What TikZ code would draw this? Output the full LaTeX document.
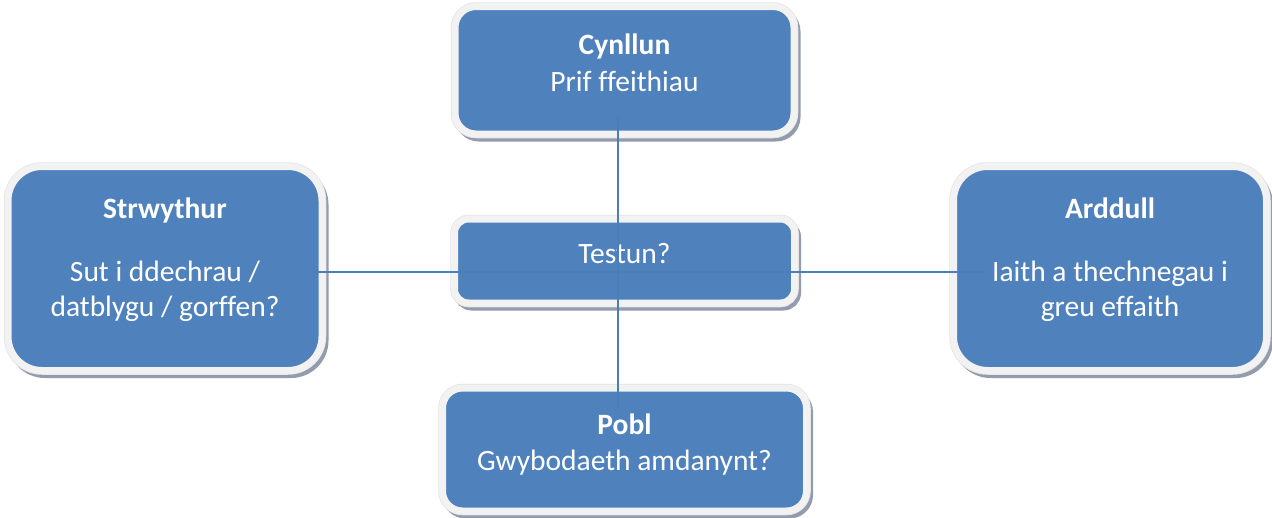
\documentclass[tikz,border=0pt]{standalone}
\usepackage{fontspec}
\setmainfont{Carlito}[Ligatures=NoCommon]
\usetikzlibrary{shadows}
\definecolor{boxblue}{HTML}{4F81BD}
\definecolor{linkblue}{HTML}{4A7EBB}
\definecolor{rimwhite}{HTML}{F2F2F2}
\definecolor{shadowgray}{HTML}{929CAD}
\definecolor{halogray}{HTML}{E4E4E4}
\tikzset{
  box/.style={fill=boxblue, draw=rimwhite, line width=7pt, outer sep=0pt, inner sep=0pt,
    preaction={draw=shadowgray, fill=shadowgray, line width=7pt, transform canvas={xshift=3pt,yshift=-4pt}},
    preaction={draw=halogray, line width=8.5pt}},
  conn/.style={draw=linkblue, line width=1.4pt},
  ttl/.style={text=white, anchor=base, font=\fontsize{29.5pt}{36pt}\selectfont\bfseries, inner sep=0pt},
  txt/.style={text=white, anchor=base, font=\fontsize{29.5pt}{36pt}\selectfont, inner sep=0pt}
}
\begin{document}
\begin{tikzpicture}[x=1pt,y=-1pt]
\fill[white] (0,0) rectangle (1272,517);
\useasboundingbox (0,0) rectangle (1272,517);

\node[box, minimum width=339pt, minimum height=127.5pt, rounded corners=21pt] (cyn) at (624.5,70.25) {};
\node[box, minimum width=340pt, minimum height=84pt, rounded corners=14pt] (tes) at (624.5,261) {};
\node[box, minimum width=314pt, minimum height=204pt, rounded corners=34pt] (str) at (165,268.5) {};
\node[box, minimum width=313pt, minimum height=204pt, rounded corners=34pt] (ard) at (1110,268.5) {};
\node[box, minimum width=364pt, minimum height=123pt, rounded corners=20pt] (pob) at (624.5,449.5) {};

\node[ttl] (cynT) at (624.5,54) {Cynllun};
\node[txt] (cynB) at (624.5,91) {Prif ffeithiau};
\node[txt] (tesT) at (624.5,263) {Testun?};
\node[ttl] (strT) at (165,218) {Strwythur};
\node[txt] (strB1) at (165,281.7) {Sut i ddechrau /};
\node[txt] (strB2) at (165,316.7) {datblygu / gorffen?};
\node[ttl] (ardT) at (1110,218) {Arddull};
\node[txt] (ardB1) at (1110,281.7) {Iaith a thechnegau i};
\node[txt] (ardB2) at (1110,316.7) {greu effaith};
\node[ttl] (pobT) at (624.5,434) {Pobl};
\node[txt] (pobB) at (624.5,470) {Gwybodaeth amdanynt?};

\draw[conn] ([xshift=-6.5pt,yshift=17pt]cyn.south) -- ([xshift=-6.5pt,yshift=-19pt]pob.north);
\draw[conn] ([xshift=-12pt,yshift=-3.5pt]str.east) -- ([xshift=31.5pt,yshift=-3.5pt]ard.west);
\end{tikzpicture}
\end{document}
